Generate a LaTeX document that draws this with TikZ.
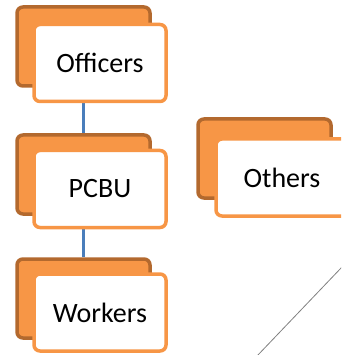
\documentclass[tikz,border=0pt]{standalone}
\usepackage{fontspec}
\setmainfont{Carlito}
\usetikzlibrary{positioning, calc}

\definecolor{accorange}{HTML}{F79646}
\definecolor{accdark}{HTML}{B3692E}
\definecolor{linkblue}{HTML}{4A7EBB}
\definecolor{slashgray}{HTML}{808080}

\begin{document}
\begin{tikzpicture}[x=1pt, y=-1pt,
    backbox/.style={draw=accdark, fill=accorange, line width=3.5pt,
                    rounded corners=6pt, minimum width=133pt, minimum height=79pt},
    frontbox/.style={draw=accorange, fill=white, line width=3.5pt,
                     rounded corners=6pt, minimum width=132pt, minimum height=77pt,
                     font=\fontsize{28}{32}\selectfont},
    link/.style={draw=linkblue, line width=3.5pt}]
  \useasboundingbox (0,0) rectangle (341,355);
  \clip (0,0) rectangle (341,355);
	% back plates
	\node[backbox] (offB) at (83.5,46.5) {};
	\node[backbox] (pcbuB) at (83.5,174.5) {};
	\node[backbox] (workB) at (83.5,298.5) {};
	\node[backbox] (othB) at (264.5,158.5) {};
	% links
	\draw[link] (offB.south) -- (pcbuB.north);
	\draw[link] (pcbuB.south) -- (workB.north);
	% front plates
	\node[frontbox] (off) at (100,63) {Officers};
	\node[frontbox] (pcbu) at (100,189) {PCBU};
	\node[frontbox] (work) at (100,312.5) {Workers};
	\node[frontbox] (oth) at (282,177.5) {Others};
	% slash
	\coordinate (slashA) at (257,356);
	\coordinate (slashB) at (342,267);
	\draw[slashgray, line width=0.8pt] (slashA) -- (slashB);
\end{tikzpicture}
\end{document}
